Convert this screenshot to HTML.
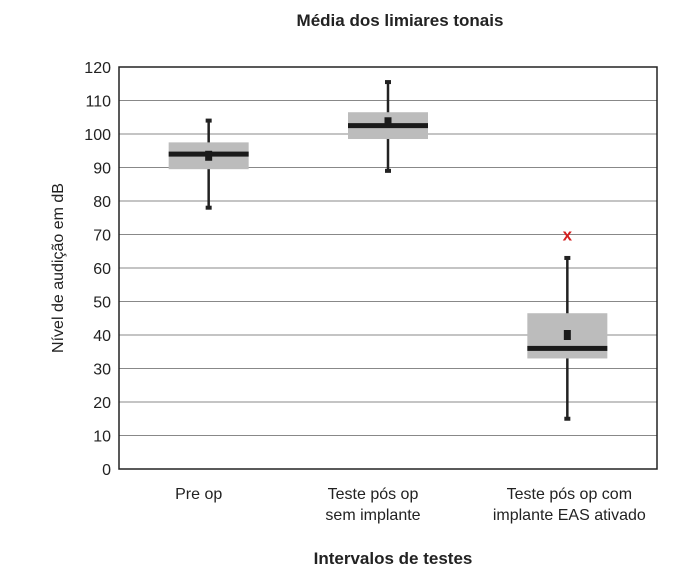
<!DOCTYPE html>
<html><head><meta charset="utf-8"><style>
body{margin:0;background:#fff;font-family:"Liberation Sans",sans-serif;}
svg text{font-family:"Liberation Sans",sans-serif;fill:#222;}
</style></head><body>
<svg width="700" height="582" viewBox="0 0 700 582">
<text x="400" y="26" text-anchor="middle" font-size="17" font-weight="bold">Média dos limiares tonais</text>
<g id="grid"></g><g id="boxes"></g><g id="labels"></g>
<text x="393" y="564" text-anchor="middle" font-size="17" font-weight="bold">Intervalos de testes</text>
<text transform="translate(63,268) rotate(-90)" text-anchor="middle" font-size="16">Nível de audição em dB</text>
</svg>
<script>
const categories=[["Pre op"],["Teste pós op","sem implante"],["Teste pós op com","implante EAS ativado"]];
const q1=[89.5,98.5,33];
const q3=[97.5,106.5,46.5];
const medians=[94,102.5,36];
const means=[93.5,103.5,40];
const whiskLow=[78,89,15];
const whiskHigh=[104,115.5,63];
const outliers=[null,null,70];
const yTicks=[0,10,20,30,40,50,60,70,80,90,100,110,120];
const NS="http://www.w3.org/2000/svg";
const L=119,R=657,T=67,B=469;
const y=v=>B-(v/120)*(B-T);
const xc=i=>L+(R-L)*(i+0.5)/3;
function mk(p,tag,a){const e=document.createElementNS(NS,tag);for(const k in a)e.setAttribute(k,a[k]);p.appendChild(e);return e;}
const g=document.getElementById('grid'),bx=document.getElementById('boxes'),lb=document.getElementById('labels');
yTicks.forEach(t=>{
 const ln=mk(g,'line',{x1:L,x2:R,y1:y(t),y2:y(t),stroke:'#888','stroke-width':1});
 
 
 const tx=mk(g,'text',{x:L-8,y:y(t)+6,'text-anchor':'end','font-size':16});tx.textContent=t;
 
 
});
const fr=mk(g,'rect',{x:L,y:T,width:R-L,height:B-T,fill:'none',stroke:'#222','stroke-width':1.5});


const labelShift=[-10,-15,2];
categories.forEach((c,i)=>{
 const cx=xc(i),hw=40;
 const grp=mk(bx,'g',{});
 
 
 mk(grp,'line',{x1:cx,x2:cx,y1:y(whiskLow[i]),y2:y(whiskHigh[i]),stroke:'#222','stroke-width':2.5});
 mk(grp,'rect',{x:cx-3,y:y(whiskHigh[i])-2,width:6,height:4,fill:'#222'});
 mk(grp,'rect',{x:cx-3,y:y(whiskLow[i])-2,width:6,height:4,fill:'#222'});
 mk(grp,'rect',{x:cx-hw,y:y(q3[i]),width:hw*2,height:y(q1[i])-y(q3[i]),fill:'#bcbcbc'});
 mk(grp,'rect',{x:cx-hw,y:y(medians[i])-2.5,width:hw*2,height:5,fill:'#1a1a1a'});
 mk(grp,'rect',{x:cx-3.5,y:y(means[i])-5,width:7,height:10,fill:'#1a1a1a'});
 if(outliers[i]!==null){
  const o=mk(grp,'text',{x:cx,y:y(outliers[i])+6,'text-anchor':'middle','font-size':17,'font-weight':'bold',style:'fill:#d42020'});o.textContent='x';
 }
 c.forEach((s,j)=>{const t=mk(lb,'text',{x:cx+labelShift[i],y:499+j*21,'text-anchor':'middle','font-size':16});t.textContent=s;
  
  });
});
</script>
</body></html>
